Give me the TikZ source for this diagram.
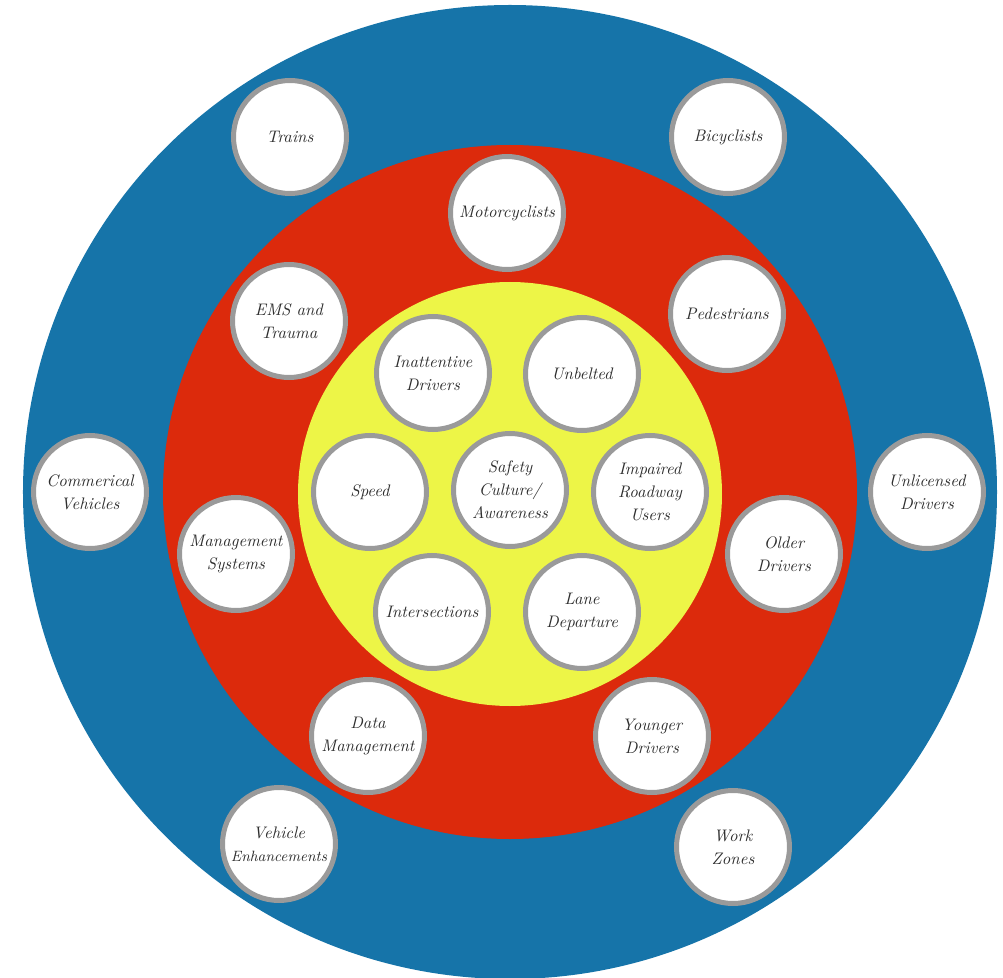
\documentclass[tikz,border=0pt]{standalone}
\definecolor{ringblue}{HTML}{1674A9}
\definecolor{ringred}{HTML}{DC2A0C}
\definecolor{ringyellow}{HTML}{EDF547}
\definecolor{rimgray}{HTML}{9A9A9A}
\definecolor{labelgray}{HTML}{2E2E2E}
\begin{document}
\begin{tikzpicture}[
  topic/.style={circle,draw=rimgray,line width=0.1cm,fill=white,minimum size=2.26cm,
    inner sep=0pt,align=center,text=labelgray,font=\itshape\fontsize{9.5}{13}\selectfont}]
  \useasboundingbox (-10.2,-9.7) rectangle (9.86,9.84);
  \fill[ringblue] (0,0) circle (9.74);
  \fill[ringred] (0,0) circle (6.94);
  \fill[ringyellow] (0,-0.04) circle (4.24);
%%% outer ring
  \node[topic] (trains) at (-4.4,7.1) {Trains};
  \node[topic] (bicyclists) at (4.36,7.1) {Bicyclists};
  \node[topic] (commercial) at (-8.4,0) {Commerical\\Vehicles};
  \node[topic] (unlicensed) at (8.34,0) {Unlicensed\\Drivers};
  \node[topic] (vehicles) at (-4.62,-7.04) {Vehicle\\{\fontsize{8.5}{13}\selectfont Enhancements}};
  \node[topic] (workzones) at (4.46,-7.1) {Work\\Zones};
%%% middle ring
  \node[topic] (motorcyclists) at (-0.06,5.58) {Motorcyclists};
  \node[topic] (ems) at (-4.42,3.42) {EMS and\\Trauma};
  \node[topic] (pedestrians) at (4.34,3.56) {Pedestrians};
  \node[topic] (mgmtsystems) at (-5.48,-1.24) {Management\\Systems};
  \node[topic] (older) at (5.48,-1.24) {Older\\Drivers};
  \node[topic] (datamgmt) at (-2.84,-4.88) {Data\\Management};
  \node[topic] (younger) at (2.84,-4.88) {Younger\\Drivers};
%%% inner ring
  \node[topic] (inattentive) at (-1.54,2.38) {Inattentive\\Drivers};
  \node[topic] (unbelted) at (1.44,2.36) {Unbelted};
  \node[topic] (speed) at (-2.8,0) {Speed};
  \node[topic] (safety) at (0,0.04) {Safety\\Culture/\\Awareness};
  \node[topic] (impaired) at (2.8,0) {Impaired\\Roadway\\Users};
  \node[topic] (intersections) at (-1.56,-2.4) {Intersections};
  \node[topic] (lane) at (1.44,-2.4) {Lane\\Departure};
%%%
\end{tikzpicture}
\end{document}
